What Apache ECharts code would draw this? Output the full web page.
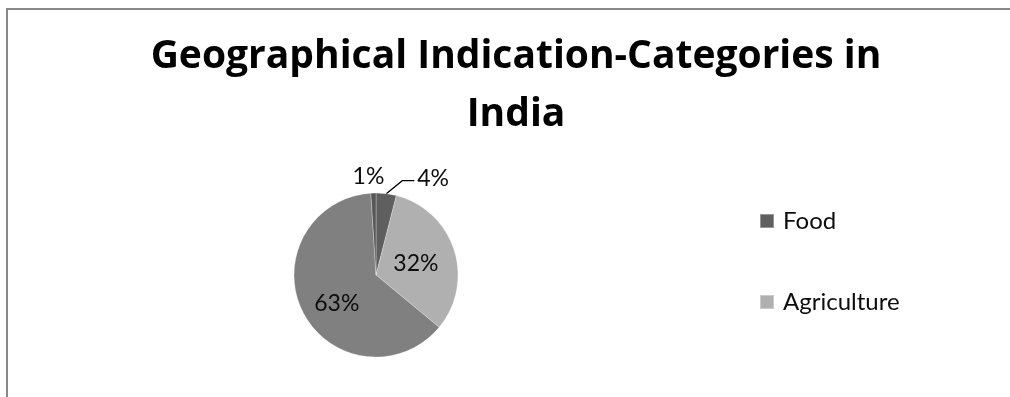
<!DOCTYPE html>
<html>
<head>
<meta charset="utf-8">
<script src="https://cdn.jsdelivr.net/npm/echarts@6/dist/echarts.min.js"></script>
<style>
  html, body { margin: 0; padding: 0; background: #fff; overflow: hidden; }
  #chart { width: 1010px; height: 397px; }
</style>
</head>
<body>
<div id="chart"></div>
<script>
// GI registrations by category (share of total, %)
const categories = ['Food', 'Agriculture', 'Handicraft', 'Manufactured'];
const shares = [4, 32, 63, 1];
const legendEntries = ['Food', 'Agriculture'];

const sliceColors = ['#5f5f5f', '#b0b0b0', '#808080', '#585858'];
const labelSide = ['outside', 'inside', 'inside', 'outside'];

const FONT = 'Lato, "Open Sans", sans-serif';
const TITLE_FONT = '"Open Sans", Lato, sans-serif';
const TEXT = '#0d0d0d';

// Fine placement of the percentage labels, relative to where the pie layout puts them
function placeLabel(p) {
  const i = p.dataIndex;
  if (i === 0) {
    // leader line climbs to the right, then runs flat into the label
    const [x0, y0] = p.labelLinePoints[0];
    return {
      x: x0 + 31, y: y0 - 15, align: 'left', verticalAlign: 'middle',
      labelLinePoints: [[x0, y0], [x0 + 16, y0 - 13], [x0 + 28, y0 - 13]]
    };
  }
  if (i === 3) {
    // thin slice: label sits straight above its outer edge, no line
    return { x: p.rect.x - 2, y: p.rect.y - 16, align: 'center', verticalAlign: 'middle' };
  }
  if (i === 2) return { dx: 0, dy: 9 };
  if (i === 1) return { dx: -2, dy: 2 };
}

const chart = echarts.init(document.getElementById('chart'), null, { renderer: 'canvas' });

chart.setOption({
  animation: false,
  backgroundColor: '#fff',
  // chart frame: only its top and left edges fall inside the view
  graphic: [
    {
      type: 'line', silent: true,
      shape: { x1: 7, y1: 9, x2: 1010, y2: 9 },
      style: { stroke: '#888', lineWidth: 2 }
    },
    {
      type: 'line', silent: true,
      shape: { x1: 7, y1: 8, x2: 7, y2: 397 },
      style: { stroke: '#888', lineWidth: 2 }
    }
  ],
  title: {
    text: 'Geographical Indication-Categories in\nIndia',
    left: 511,
    top: 23,
    textAlign: 'center',
    textStyle: {
      fontFamily: TITLE_FONT,
      fontWeight: 'bold',
      fontSize: 39,
      lineHeight: 58,
      color: '#000'
    }
  },
  legend: {
    data: legendEntries,
    orient: 'vertical',
    left: 754,
    top: 204,
    icon: 'rect',
    itemWidth: 14,
    itemHeight: 14,
    itemGap: 57,
    selectedMode: false,
    textStyle: {
      fontFamily: FONT,
      fontSize: 24,
      lineHeight: 20,
      color: TEXT,
      padding: [0, 0, 0, 4]
    }
  },
  series: [{
    type: 'pie',
    center: [376, 275],
    radius: 82,
    startAngle: 90,
    clockwise: true,
    avoidLabelOverlap: false,
    silent: true,
    emphasis: { disabled: true },
    itemStyle: { borderColor: 'rgba(255,255,255,0.35)', borderWidth: 0.8 },
    label: {
      show: true,
      position: 'inside',
      formatter: '{c}%',
      fontFamily: FONT,
      fontSize: 23,
      color: TEXT
    },
    labelLine: {
      length: 10,
      length2: 10,
      lineStyle: { color: '#000', width: 1.3 }
    },
    labelLayout: placeLabel,
    data: categories.map((name, i) => ({
      name: name,
      value: shares[i],
      itemStyle: { color: sliceColors[i] },
      label: { position: labelSide[i] },
      labelLine: { show: i === 0 }
    }))
  }]
});
</script>
</body>
</html>
